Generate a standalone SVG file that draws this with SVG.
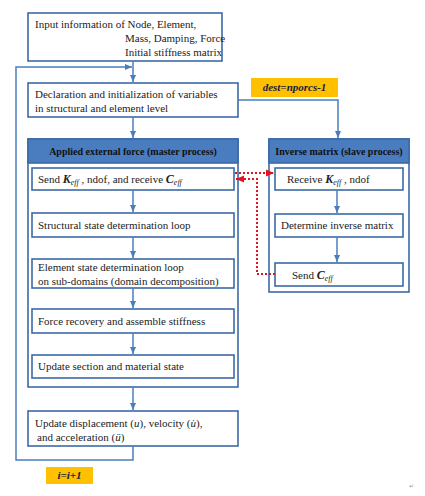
<svg xmlns="http://www.w3.org/2000/svg" width="425" height="496" viewBox="0 0 425 496">
<style>
.box{fill:#fff;stroke:#3c6aa6;stroke-width:1.6}
.outer{fill:#fff;stroke:#3c6aa6;stroke-width:1.6}
.hdr{fill:#4a7cc0;stroke:#3c6aa6;stroke-width:1.6}
.t{font-family:"Liberation Serif","Times New Roman",serif;font-size:11px;fill:#222}
.h{font-family:"Liberation Serif","Times New Roman",serif;font-size:10px;font-weight:bold;fill:#111}
.y{fill:#ffc000}
.yt{font-family:"Liberation Serif","Times New Roman",serif;font-size:11px;font-weight:bold;font-style:italic;fill:#1a1a3a}
.bi{font-weight:bold;font-style:italic;font-size:12px}
.sub{font-style:italic;font-size:8px}
.c{fill:none;stroke:#4a7ebb;stroke-width:1.5}
.r{fill:none;stroke:#e0141e;stroke-width:2;stroke-dasharray:2 2}
</style>
<defs>
<marker id="ab" markerWidth="8" markerHeight="8" refX="7" refY="4" orient="auto" markerUnits="userSpaceOnUse"><path d="M0,1 L7,4 L0,7 z" fill="#4a7ebb"/></marker>
<marker id="ar" markerWidth="9" markerHeight="9" refX="8" refY="4.5" orient="auto" markerUnits="userSpaceOnUse"><path d="M0,1 L8,4.5 L0,8 z" fill="#e0141e"/></marker>
</defs>

<g id="n-input">
<rect class="box" x="28" y="13" width="194" height="48"/>
<text class="t" x="35" y="28">Input information  of Node, Element,</text>
<text class="t" x="125" y="42">Mass, Damping, Force</text>
<text class="t" x="125" y="56">Initial stiffness matrix</text>
</g>

<g id="n-decl">
<rect class="box" x="28" y="83" width="210" height="34"/>
<text class="t" x="35" y="98">Declaration  and initialization  of variables</text>
<text class="t" x="35" y="112">in structural  and element level</text>
</g>

<g id="l-dest">
<rect class="y" x="251" y="78" width="87" height="19"/>
<text class="yt" x="294.5" y="91" text-anchor="middle">dest=nporcs-1</text>
</g>

<g id="n-master">
<rect class="outer" x="28" y="139" width="210" height="248"/>
<rect class="hdr" x="28" y="139" width="210" height="24"/>
<text class="h" x="133" y="155" text-anchor="middle">Applied external force (master process)</text>
</g>

<g id="n-send">
<rect class="box" x="32" y="168" width="202" height="22"/>
<text class="t" x="38" y="183">Send <tspan class="bi">K</tspan><tspan class="sub" dy="2">eff</tspan><tspan dy="-2"> , ndof, and receive  </tspan><tspan class="bi">C</tspan><tspan class="sub" dy="2">eff</tspan></text>
</g>

<g id="n-struct">
<rect class="box" x="32" y="213" width="202" height="24"/>
<text class="t" x="38" y="229">Structural  state determination  loop</text>
</g>

<g id="n-elem">
<rect class="box" x="32" y="259" width="202" height="29"/>
<text class="t" x="38" y="271">Element state determination  loop</text>
<text class="t" x="38" y="285">on sub-domains  (domain decomposition)</text>
</g>

<g id="n-force">
<rect class="box" x="32" y="309" width="202" height="24"/>
<text class="t" x="38" y="325">Force recovery and assemble stiffness</text>
</g>

<g id="n-update-sec">
<rect class="box" x="32" y="355" width="202" height="23"/>
<text class="t" x="38" y="370">Update section and material state</text>
</g>

<g id="n-update-disp">
<rect class="box" x="28" y="411" width="210" height="35"/>
<text class="t" x="35" y="427">Update displacement  (<tspan font-style="italic">u</tspan>), velocity  (<tspan font-style="italic">u̇</tspan>),</text>
<text class="t" x="37" y="441">and  acceleration  (<tspan font-style="italic">ü</tspan>)</text>
</g>

<g id="l-iter">
<rect class="y" x="46" y="467" width="47" height="17"/>
<text class="yt" x="69.5" y="479" text-anchor="middle" font-size="10">i=i+1</text>
</g>

<g id="n-slave">
<rect class="outer" x="269" y="139" width="140" height="153"/>
<rect class="hdr" x="269" y="139" width="140" height="24"/>
<text class="h" x="339" y="155" text-anchor="middle">Inverse matrix (slave process)</text>
</g>

<g id="n-receive">
<rect class="box" x="275" y="168" width="128" height="22"/>
<text class="t" x="287" y="183">Receive <tspan class="bi">K</tspan><tspan class="sub" dy="2">eff</tspan><tspan dy="-2">   , ndof</tspan></text>
</g>

<g id="n-inverse">
<rect class="box" x="275" y="214" width="128" height="23"/>
<text class="t" x="281" y="229">Determine inverse matrix</text>
</g>

<g id="n-sendc">
<rect class="box" x="275" y="263" width="128" height="23"/>
<text class="t" x="292" y="279">Send  <tspan class="bi">C</tspan><tspan class="sub" dy="2">eff</tspan></text>
</g>

<g id="connectors">
<path class="c" d="M133,61 V82" marker-end="url(#ab)"/>
<path class="c" d="M133,117 V138" marker-end="url(#ab)"/>
<path class="c" d="M238,100 H338 V138" marker-end="url(#ab)"/>
<path class="c" d="M133,190 V212" marker-end="url(#ab)"/>
<path class="c" d="M133,237 V258" marker-end="url(#ab)"/>
<path class="c" d="M133,288 V308" marker-end="url(#ab)"/>
<path class="c" d="M133,333 V354" marker-end="url(#ab)"/>
<path class="c" d="M133,387 V410" marker-end="url(#ab)"/>
<path class="c" d="M133,446 V460 H16 V67 H132" marker-end="url(#ab)"/>
<path class="c" d="M337,190 V213" marker-end="url(#ab)"/>
<path class="c" d="M337,237 V262" marker-end="url(#ab)"/>
<path class="r" d="M235,173 H274" marker-end="url(#ar)"/>
<path class="r" d="M275,274 H257 V179 H236" marker-end="url(#ar)"/>
</g>

<text x="409" y="488" font-family="Liberation Sans, sans-serif" font-size="6" fill="#999">↵</text>
</svg>
